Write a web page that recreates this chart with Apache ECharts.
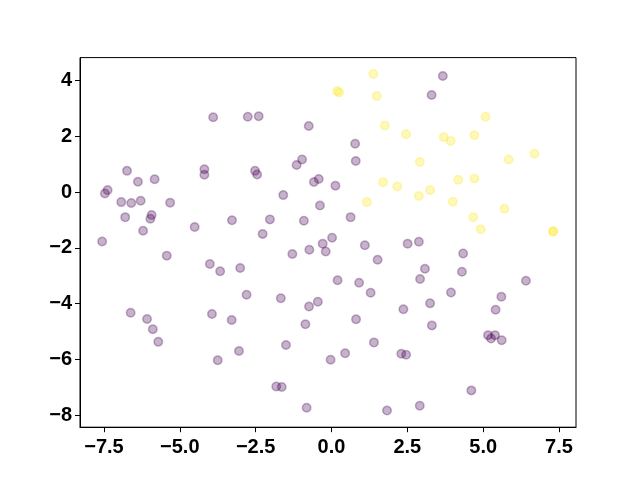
<!DOCTYPE html>
<html>
<head>
<meta charset="utf-8">
<script src="https://cdn.jsdelivr.net/npm/echarts@6/dist/echarts.min.js"></script>
<style>html,body{margin:0;padding:0;background:#fff}#c{width:640px;height:480px}</style>
</head>
<body>
<div id="c"></div>
<script>
const xTicks = [-7.5, -5, -2.5, 0, 2.5, 5, 7.5];
const yTicks = [-8, -6, -4, -2, 0, 2, 4];
const xRange = [-8.29, 8.06];
const yRange = [-8.43, 4.82];

const purplePoints = [
  [-3.90, 2.68], [-2.76, 2.70], [-2.40, 2.72], [-0.75, 2.37], [-0.97, 1.17], [-1.15, 0.97],
  [-6.74, 0.76], [-6.38, 0.37], [-5.83, 0.46], [-4.19, 0.82], [-4.19, 0.62], [-2.52, 0.76],
  [-2.45, 0.63], [-0.42, 0.47], [-0.58, 0.36], [0.13, 0.23], [-7.38, 0.07], [-7.47, -0.05],
  [-6.93, -0.36], [-6.60, -0.39], [-6.29, -0.31], [-5.32, -0.38], [-1.59, -0.11], [-0.38, -0.48],
  [-6.80, -0.90], [-5.93, -0.82], [-5.97, -0.96], [-3.28, -1.01], [-2.03, -0.98], [-0.91, -1.03],
  [-4.51, -1.25], [-6.21, -1.39], [-2.27, -1.50], [0.02, -1.64], [-0.29, -1.85], [-0.73, -2.07],
  [-0.19, -2.13], [-1.29, -2.22], [-5.43, -2.28], [-7.56, -1.77], [-4.01, -2.58], [-3.67, -2.84],
  [-3.01, -2.72], [-2.80, -3.68], [-1.67, -3.81], [-0.45, -3.93], [-0.74, -4.10], [-6.62, -4.33],
  [-3.94, -4.37], [-6.08, -4.55], [-3.29, -4.59], [-0.86, -4.74], [-5.89, -4.92], [-5.71, -5.37],
  [-1.50, -5.48], [-3.05, -5.70], [-3.75, -6.03], [-0.03, -6.01], [-1.82, -6.97], [-1.64, -6.99],
  [-0.82, -7.73], [3.67, 4.16], [3.30, 3.48], [0.78, 1.73], [0.80, 1.11], [0.63, -0.90],
  [1.10, -1.91], [2.51, -1.85], [2.88, -1.78], [4.34, -2.20], [1.52, -2.43], [3.08, -2.75],
  [4.30, -2.86], [0.20, -3.16], [0.91, -3.25], [2.92, -3.12], [6.41, -3.18], [1.29, -3.61],
  [3.94, -3.60], [5.60, -3.75], [2.37, -4.20], [3.25, -3.99], [5.41, -4.22], [0.81, -4.56],
  [3.31, -4.78], [1.40, -5.39], [5.16, -5.13], [5.39, -5.13], [5.26, -5.25], [5.61, -5.31],
  [0.45, -5.78], [2.30, -5.80], [2.46, -5.83], [4.61, -7.11], [1.83, -7.83], [2.91, -7.66]
];

const yellowPoints = [
  [1.38, 4.23], [0.19, 3.62], [0.25, 3.57], [1.49, 3.44], [5.08, 2.70], [1.76, 2.39],
  [2.46, 2.07], [3.70, 1.97], [3.93, 1.83], [4.71, 2.04], [5.84, 1.17], [6.69, 1.37],
  [2.91, 1.08], [1.70, 0.35], [2.17, 0.20], [4.18, 0.44], [4.71, 0.49], [1.17, -0.36],
  [2.88, -0.14], [3.25, 0.07], [4.00, -0.35], [5.70, -0.60], [4.67, -0.90], [4.92, -1.33],
  [7.30, -1.40], [7.31, -1.42]
];

const purple = '#440154';
const yellow = '#fde725';
const fontFamily = '"Liberation Sans", Arial, sans-serif';

function fmt(v, d) { return v.toFixed(d).replace('-', '\u2212'); }

const chart = echarts.init(document.getElementById('c'), null, { renderer: 'canvas' });

function axisCommon(ticks, decimals, margin) {
  return {
    type: 'value',
    splitLine: { show: false },
    axisLine: { show: true, onZero: false, lineStyle: { color: '#000', width: 1 } },
    axisTick: { show: true, length: 5, inside: false, customValues: ticks, lineStyle: { color: '#000', width: 1 } },
    axisLabel: {
      customValues: ticks,
      margin: margin,
      color: '#000',
      fontFamily: fontFamily,
      fontWeight: 'bold',
      fontSize: 20,
      formatter: v => fmt(v, decimals)
    }
  };
}

const option = {
  animation: false,
  backgroundColor: '#fff',
  grid: { left: 80, right: 64, top: 57.6, bottom: 52.8, show: true, borderColor: '#000', borderWidth: 1, containLabel: false },
  xAxis: Object.assign(axisCommon(xTicks, 1, 10), { min: xRange[0], max: xRange[1] }),
  yAxis: Object.assign(axisCommon(yTicks, 0, 8), { min: yRange[0], max: yRange[1] }),
  series: [
    {
      type: 'scatter',
      data: purplePoints,
      symbol: 'circle',
      symbolSize: 8.5,
      itemStyle: { color: purple, borderColor: purple, borderWidth: 1.5, opacity: 0.3 }
    },
    {
      type: 'scatter',
      data: yellowPoints,
      symbol: 'circle',
      symbolSize: 8.5,
      itemStyle: { color: yellow, borderColor: yellow, borderWidth: 1.5, opacity: 0.3 }
    }
  ]
};
chart.setOption(option);
</script>
</body>
</html>
